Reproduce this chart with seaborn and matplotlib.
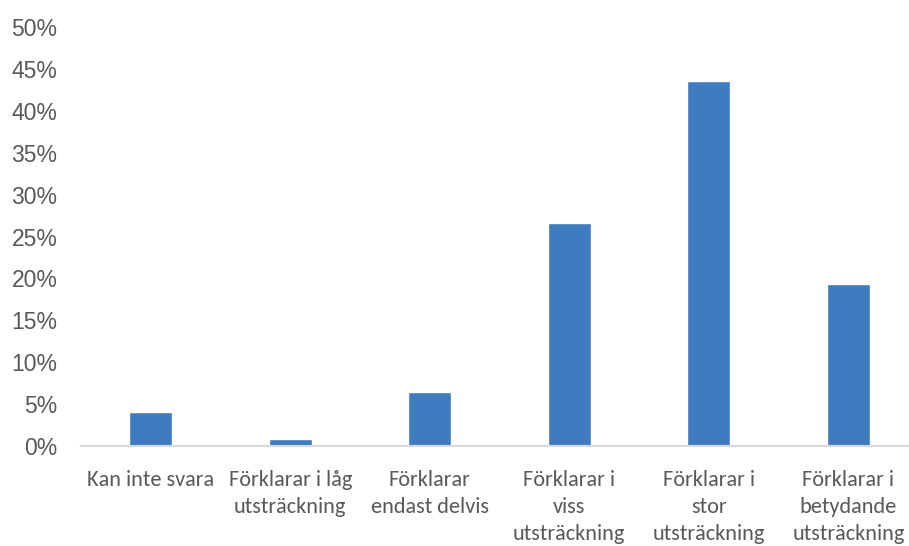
import matplotlib
matplotlib.use("Agg")
import matplotlib.pyplot as plt
from matplotlib import font_manager
import seaborn as sns
import pandas as pd
from matplotlib.ticker import PercentFormatter

categories = ["Kan inte svara", "Förklarar i låg\nutsträckning", "Förklarar\nendast delvis",
              "Förklarar i\nviss\nutsträckning", "Förklarar i\nstor\nutsträckning",
              "Förklarar i\nbetydande\nutsträckning"]
values = [0.040, 0.008, 0.065, 0.266, 0.436, 0.193]

df = pd.DataFrame({"cat": categories, "val": values})

sns.set_theme(style="white")
plt.rcParams['font.family'] = ['Liberation Sans', 'DejaVu Sans']

names = {f.name for f in font_manager.fontManager.ttflist}
if 'Carlito' in names:
    xfam, xsize, xls = ['Carlito', 'DejaVu Sans'], 16, 1.45
elif 'Liberation Sans Narrow' in names:
    xfam, xsize, xls = ['Liberation Sans Narrow', 'DejaVu Sans'], 15, 1.5
else:
    xfam, xsize, xls = ['Lato', 'DejaVu Sans'], 14.5, 1.55

fig = plt.figure(figsize=(9.09, 5.46), dpi=100)
ax = fig.add_axes([81/909, 1-446/546, 1-81/909, (446-27)/546])
sns.barplot(data=df, x="cat", y="val", color="#3f7cbf", width=0.31, ax=ax, saturation=1)
ax.set_xlim(-0.5, 5.435)
ax.set_ylim(0, 0.5)
ax.set_yticks([i*0.05 for i in range(11)])
ax.yaxis.set_major_formatter(PercentFormatter(1.0, decimals=0))
ax.set_xlabel("")
ax.set_ylabel("")
for s in ["top", "right", "left"]:
    ax.spines[s].set_visible(False)
ax.spines["bottom"].set_color("#d9d9d9")
ax.spines["bottom"].set_linewidth(1.5)
ax.tick_params(axis="y", length=0, pad=17, labelsize=16.5, labelcolor="#595959")
ax.tick_params(axis="x", length=0, pad=17, labelsize=xsize, labelcolor="#595959")
for lbl in ax.get_xticklabels():
    lbl.set_family(xfam)
    lbl.set_linespacing(xls)
fig.savefig("out.png", dpi=100)
